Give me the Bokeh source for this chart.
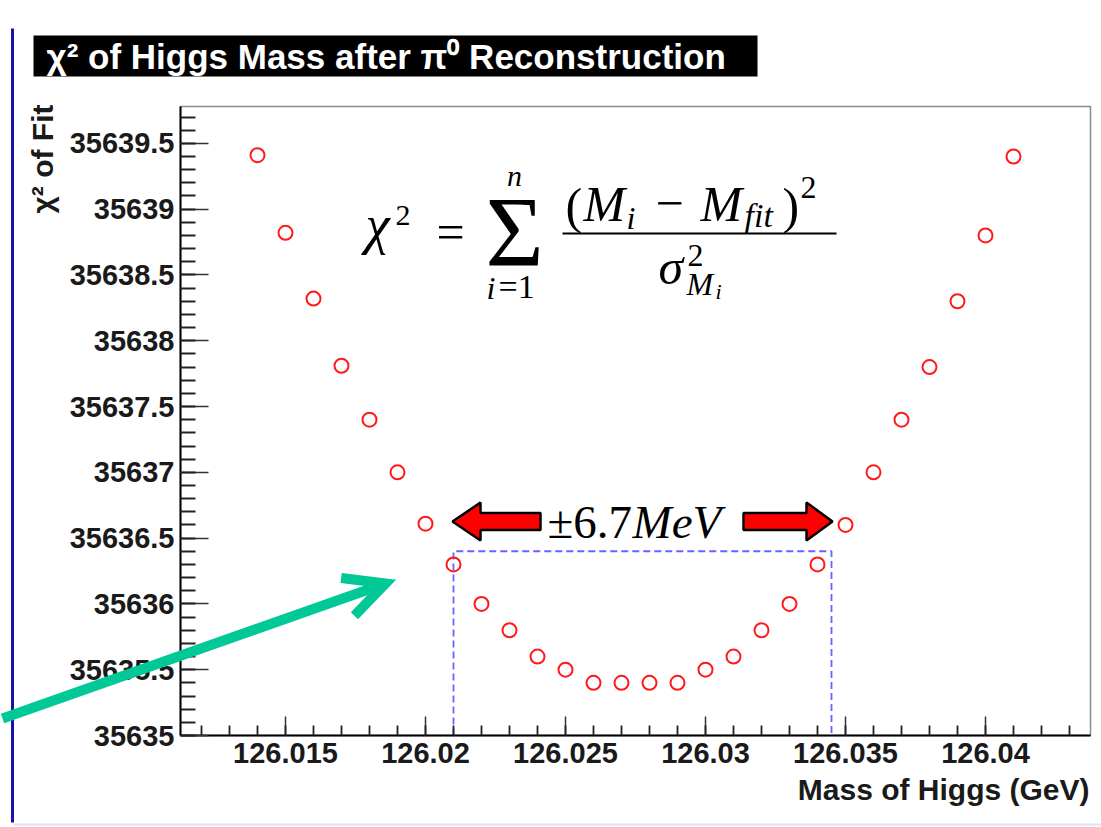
from math import pi
from bokeh.plotting import figure
from bokeh.models import (Range1d, FixedTicker, Label, PolyAnnotation, Arrow,
                          OpenHead, GridBox)
from bokeh.embed import file_html
from bokeh.resources import INLINE

# ---------------- data ----------------
mass_gev = [126.014, 126.015, 126.016, 126.017, 126.018, 126.019, 126.020,
            126.021, 126.022, 126.023, 126.024, 126.025, 126.026, 126.027,
            126.028, 126.029, 126.030, 126.031, 126.032, 126.033, 126.034,
            126.035, 126.036, 126.037, 126.038, 126.039, 126.040, 126.041]
chi2_fit = [35639.41, 35638.82, 35638.32, 35637.81, 35637.40, 35637.00, 35636.61,
            35636.30, 35636.00, 35635.80, 35635.60, 35635.50, 35635.40, 35635.40,
            35635.40, 35635.40, 35635.50, 35635.60, 35635.80, 35636.00, 35636.30,
            35636.60, 35637.00, 35637.40, 35637.80, 35638.30, 35638.80, 35639.40]

x_tick_values = [126.015, 126.02, 126.025, 126.03, 126.035, 126.04]
x_tick_labels = ["126.015", "126.02", "126.025", "126.03", "126.035", "126.04"]
y_tick_values = [35635.0, 35635.5, 35636.0, 35636.5, 35637.0,
                 35637.5, 35638.0, 35638.5, 35639.0, 35639.5]
y_tick_labels = ["35635", "35635.5", "35636", "35636.5", "35637",
                 "35637.5", "35638", "35638.5", "35639", "35639.5"]
x_minor_values = [round(126.012 + 0.001 * k, 3) for k in range(32)]
y_minor_values = [round(35635.0 + 0.1 * k, 1) for k in range(48)]

# mass window marked by the dashed box
window_low = 126.021
window_high = 126.0345
window_top = 35636.4

title_text = "\u03c7\u00b2 of Higgs Mass after \u03c0\u2070 Reconstruction"
x_label_text = "Mass of Higgs (GeV)"
y_label_text = "\u03c7\u00b2 of Fit"

# ---------------- layout ----------------
W, H = 1101, 827
FL, FR, FT, FB = 180, 1090, 106, 735
X_START, X_END = 126.01125, 126.04375
Y_START, Y_END = 35635.0, 35639.78


def X(px):
    return X_START + (px - FL) * (X_END - X_START) / (FR - FL)


def Y(py):
    return Y_START + (FB - py) * (Y_END - Y_START) / (FB - FT)


p = figure(width=W, height=H, output_backend="svg", toolbar_location=None,
           x_range=Range1d(X_START, X_END), y_range=Range1d(Y_START, Y_END),
           min_border_left=FL, min_border_right=W - FR,
           min_border_top=FT, min_border_bottom=H - FB)
p.frame_align = False
p.grid.visible = False
p.background_fill_color = "white"
p.border_fill_color = "white"
p.outline_line_color = "#8a8a8a"
p.outline_line_width = 1.5

TICK_FONT = "Liberation Sans"
for ax in (p.xaxis[0], p.yaxis[0]):
    ax.axis_line_color = "black"
    ax.axis_line_width = 2
    ax.major_tick_line_color = "#333333"
    ax.minor_tick_line_color = "#222222"
    ax.major_tick_line_width = 1.5
    ax.minor_tick_line_width = 1.8
    ax.major_tick_out = 0
    ax.minor_tick_out = 0
    ax.major_label_text_font = TICK_FONT
    ax.major_label_text_font_style = "bold"
    ax.major_label_text_font_size = "29px"
    ax.major_label_text_color = "#1a1a1a"

p.xaxis[0].ticker = FixedTicker(ticks=x_tick_values, minor_ticks=x_minor_values)
p.xaxis[0].major_label_overrides = dict(zip(x_tick_values, x_tick_labels))
p.xaxis[0].major_tick_in = 19
p.xaxis[0].minor_tick_in = 10
p.xaxis[0].major_label_standoff = 7

p.yaxis[0].ticker = FixedTicker(ticks=y_tick_values, minor_ticks=y_minor_values)
p.yaxis[0].major_label_overrides = dict(zip(y_tick_values, y_tick_labels))
p.yaxis[0].major_tick_in = 28
p.yaxis[0].minor_tick_in = 15
p.yaxis[0].major_label_standoff = 6

# dashed window box (three sides, bottom on the axis)
p.line(x=[window_low, window_low, window_high, window_high],
       y=[Y_START, window_top, window_top, Y_START],
       line_color="#6464ff", line_dash="7 4", line_width=1.8)

# data points
p.scatter(x=mass_gev, y=chi2_fit, marker="circle", size=14,
          fill_color=None, line_color="#ff1a1a", line_width=2)


def lab(fig, conv_x, conv_y, text, px, by, size, font="Liberation Serif",
        style="normal", align="left", color="black"):
    # by = wanted alphabetic baseline (pixels from top); placed via "middle"
    fig.add_layout(Label(x=conv_x(px), y=conv_y(by - 0.34 * size), text=text,
                         text_font=font, text_font_style=style,
                         text_font_size=f"{size}px", text_align=align,
                         text_baseline="middle", text_color=color))


def L(text, px, by, size, **kw):
    lab(p, X, Y, text, px, by, size, **kw)


def poly(fig, conv_x, conv_y, pts, fill, line_color=None, line_width=0):
    fig.add_layout(PolyAnnotation(xs=[conv_x(a) for a, b in pts],
                                  ys=[conv_y(b) for a, b in pts],
                                  fill_color=fill, fill_alpha=1.0,
                                  line_color=line_color if line_color else "black",
                                  line_width=line_width,
                                  line_alpha=1.0 if line_color else 0.0))


def seg(fig, conv_x, conv_y, x0, y0, x1, y1, color, width):
    fig.add_layout(Arrow(start=None, end=None, x_start=conv_x(x0), y_start=conv_y(y0),
                         x_end=conv_x(x1), y_end=conv_y(y1),
                         line_color=color, line_width=width))


# formula  chi^2 = sum_{i=1}^{n} (M_i - M_fit)^2 / sigma^2_{M_i}
L("\u03c7", 365, 243, 55, style="italic")
L("2", 395, 225, 30)
L("=", 436, 248, 50)
L("\u03a3", 514, 265, 100, align="center")
L("n", 514, 185, 30, style="italic", align="center")
L("i", 486, 298, 32, style="italic")
L("=1", 498, 298, 34)
seg(p, X, Y, 562, 233, 836, 233, "black", 2)
L("(", 565, 222, 50)
L("M", 583, 220, 50, style="italic")
L("i", 626, 228, 32, style="italic")
L("\u2212", 655, 220, 50)
L("M", 700, 220, 50, style="italic")
L("fit", 744, 227, 34, style="italic")
L(")", 782, 222, 50)
L("2", 800, 198, 32)
L("\u03c3", 658, 283, 50, style="italic")
L("2", 687, 266, 32)
L("M", 686, 294, 32, style="italic")
L("i", 715, 298, 22, style="italic")

# +-6.7 MeV with red block arrows
poly(p, X, Y, [(452, 521), (480, 502), (480, 512.5), (540, 512.5),
               (540, 529.5), (480, 529.5), (480, 540)], "#ff0000", "black", 2.5)
poly(p, X, Y, [(832, 521), (806, 502), (806, 512.5), (743, 512.5),
               (743, 529.5), (806, 529.5), (806, 540)], "#ff0000", "black", 2.5)
L("\u00b16.7", 547, 537, 47)
L("MeV", 632, 537, 47, style="italic")

# ---------------- overlay page layer (pixel coordinates, y from top) ----------------
o = figure(width=W, height=H, output_backend="svg", toolbar_location=None,
           x_range=Range1d(0, W), y_range=Range1d(H, 0),
           x_axis_type=None, y_axis_type=None, min_border=0)
o.frame_align = False
o.background_fill_alpha = 0.0
o.border_fill_alpha = 0.0
o.outline_line_color = None
o.grid.visible = False


def ident(v):
    return v


# slide decorations
seg(o, ident, ident, 12, 28, 12, 822, "#1414a8", 3)
seg(o, ident, ident, 13, 824, 1101, 824, "#e2e2ee", 2)

# title box
poly(o, ident, ident, [(33, 35), (757, 35), (757, 76), (33, 76)], "black")
lab(o, ident, ident, title_text, 46, 68, 35, font="Liberation Sans",
    style="bold", color="white")

# axis titles
lab(o, ident, ident, x_label_text, 1089, 799, 30, font="Liberation Sans",
    style="bold", align="right", color="#1a1a1a")
o.add_layout(Label(x=42, y=104, text=y_label_text, text_font="Liberation Sans",
                   text_font_style="bold", text_font_size="30px",
                   text_align="right", text_baseline="middle",
                   text_color="#1a1a1a", angle=pi / 2))

# green pointer arrow
GREEN = "#00c896"
o.add_layout(Arrow(end=OpenHead(size=40, line_color=GREEN, line_width=10,
                                line_join="miter"),
                   x_start=2, y_start=718, x_end=385, y_end=583,
                   line_color=GREEN, line_width=10))

page = GridBox(children=[(p, 0, 0), (o, 0, 0)])
open("out.html", "w").write(file_html(page, INLINE))
